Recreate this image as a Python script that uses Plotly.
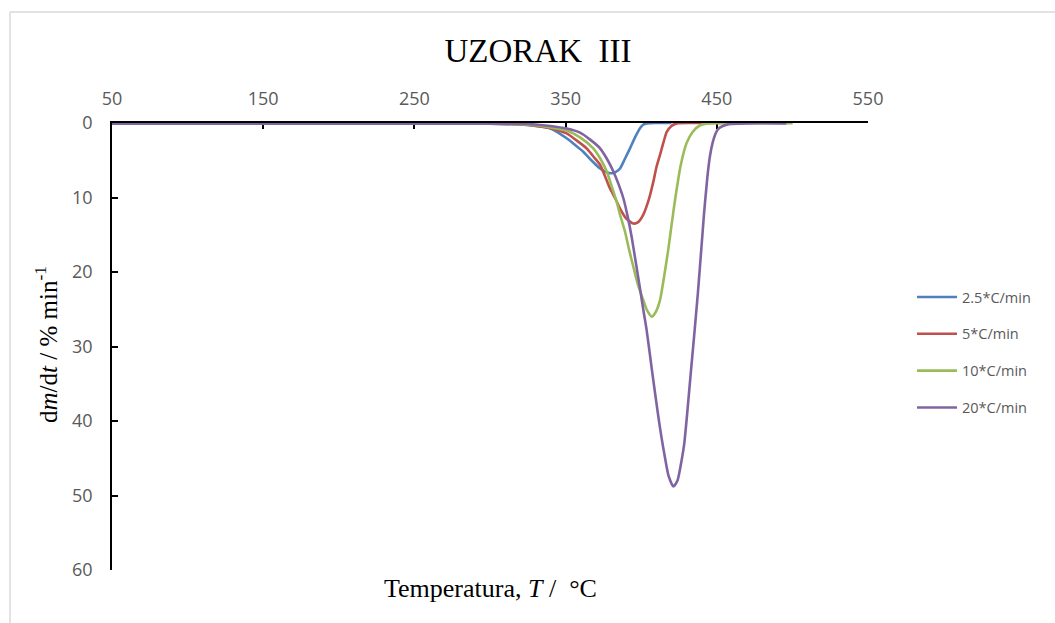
import plotly.graph_objects as go

# ---- data ----
t_25 = [50, 100, 150, 200, 250, 300, 320, 330, 339.7, 350.7, 356, 361.7, 367, 372.8, 377, 380.5, 383, 386, 389,
        392.6, 396, 399.2, 401.5, 403.6, 410, 420]
v_25 = [0.1, 0.1, 0.1, 0.1, 0.1, 0.1, 0.2, 0.4, 0.7, 2.05, 2.9, 3.85, 5.0, 6.1, 6.6, 6.75, 6.6, 6.1, 4.9,
        3.4, 1.9, 0.7, 0.2, 0.05, 0.0, 0.0]

t_5 = [50, 100, 150, 200, 250, 300, 320, 330, 340, 350.7, 357, 363.9, 368, 372.8, 376, 379.4, 383, 386, 390,
       394.8, 398, 401.4, 405, 408, 410, 412.4, 415, 416.9, 420, 423.5, 440, 470, 500]
v_5 = [0.1, 0.1, 0.1, 0.1, 0.1, 0.1, 0.2, 0.35, 0.7, 1.4, 2.3, 3.4, 4.4, 5.6, 7.1, 8.8, 10.2, 11.5, 12.8,
       13.5, 13.3, 12.3, 10.3, 7.9, 6.0, 4.3, 2.4, 1.2, 0.4, 0.05, 0.0, 0.0, 0.0]

t_10 = [50, 100, 150, 200, 250, 300, 320, 330, 340, 350.7, 360, 368.3, 373, 377.2, 380.5, 383.8, 386, 389.3, 392,
        394.8, 398, 401.4, 404, 407, 409.5, 412.4, 415, 417.9, 420, 422.4, 426, 430, 434, 439, 445, 470, 500]
v_10 = [0.1, 0.1, 0.1, 0.1, 0.1, 0.1, 0.15, 0.3, 0.6, 1.0, 2.0, 3.4, 4.8, 6.5, 8.5, 10.6, 12.3, 14.6, 17.0,
        19.3, 21.8, 23.8, 25.2, 26.0, 25.4, 23.8, 20.8, 17.0, 13.8, 10.3, 5.8, 2.7, 1.2, 0.3, 0.05, 0.0, 0.0]

t_20 = [50, 100, 150, 200, 250, 300, 320, 330, 340, 350.7, 359.5, 366, 372.8, 377, 381.6, 385, 388.2, 391,
        393.7, 396.5, 399.2, 401.5, 403.6, 407, 409, 411.4, 413.5, 415.8, 418, 421.3, 424, 426.8, 428.5, 430,
        432.5, 435, 437.5, 439.8, 441.5, 443.7, 445.5, 447.3, 449, 451, 454, 458, 470, 496]
v_20 = [0.1, 0.1, 0.1, 0.1, 0.1, 0.1, 0.1, 0.2, 0.4, 0.75, 1.3, 2.2, 3.4, 4.7, 6.5, 8.2, 10.1, 12.5,
        15.3, 18.8, 22.2, 25.2, 27.8, 33.0, 36.0, 39.5, 42.3, 45.0, 47.3, 48.8, 48.0, 45.2, 43.0, 39.9,
        34.2, 28.6, 22.8, 16.8, 12.3, 7.4, 4.4, 2.6, 1.5, 0.8, 0.4, 0.15, 0.05, 0.05]

series_names = ["2.5*C/min", "5*C/min", "10*C/min", "20*C/min"]
series_t = [t_25, t_5, t_10, t_20]
series_v = [v_25, v_5, v_10, v_20]
colors = ["#4F81BD", "#C0504D", "#9BBB59", "#8064A2"]

x_ticks = [50, 150, 250, 350, 450, 550]
y_ticks = [0, 10, 20, 30, 40, 50, 60]

fig = go.Figure()
for i, (n, t, v, c) in enumerate(zip(series_names, series_t, series_v, colors)):
    fig.add_trace(go.Scatter(x=t, y=v, mode="lines", name=n, legendgroup=str(i),
                             line=dict(color=c, width=2.6, shape="spline", smoothing=0.6)))

W, H = 1055, 623
L, R, T, B = 112, 868, 123, 570
pw, ph = R - L, B - T

def px_x(p):
    return (p - L) / pw

def px_y(p):
    return (B - p) / ph

tick_font = dict(family="Open Sans, Liberation Sans, sans-serif", size=18, color="#595959")
legend_font = dict(family="Open Sans, Liberation Sans, sans-serif", size=14.5, color="#595959")
serif = "Liberation Serif, Times New Roman, serif"

fig.update_layout(
    width=W, height=H,
    margin=dict(l=L, r=W - R, t=T, b=H - B, pad=0),
    paper_bgcolor="white", plot_bgcolor="white",
    title=dict(text="UZORAK\u00a0\u00a0III", x=538 / W, xanchor="center", y=1 - 50 / H, yanchor="middle",
               font=dict(family=serif, size=33, color="black")),
    xaxis=dict(range=[50, 550], side="top", tickvals=x_ticks, ticks="inside", ticklen=6, tickwidth=1.5,
               tickcolor="black", showline=True, linecolor="black", linewidth=1.5, showgrid=False,
               zeroline=False, tickfont=tick_font, layer="below traces", ticklabelstandoff=9),
    yaxis=dict(range=[60, 0], tickvals=y_ticks, ticks="inside", ticklen=6, tickwidth=1.5, tickcolor="black",
               showline=True, linecolor="black", linewidth=1.5, showgrid=False, zeroline=False,
               tickfont=tick_font, layer="below traces", ticklabelstandoff=14),
    legend=dict(x=px_x(912), xanchor="left", y=px_y(281), yanchor="top", font=legend_font,
                traceorder="grouped", tracegroupgap=15, itemwidth=40, bgcolor="rgba(0,0,0,0)"),
    showlegend=True,
)

fig.add_annotation(text="Temperatura, <i>T</i> /\u00a0\u00a0°C", xref="paper", yref="paper",
                   x=px_x(490), y=px_y(588), xanchor="center", yanchor="middle", showarrow=False,
                   font=dict(family=serif, size=26, color="black"))
fig.add_annotation(text="d<i>m</i>/d<i>t</i> / % min<sup>-1</sup>", xref="paper", yref="paper",
                   x=px_x(46), y=px_y(345), xanchor="center", yanchor="middle", showarrow=False,
                   textangle=-90, font=dict(family=serif, size=25, color="black"))

# chart-area border (top and left edges visible)
fig.add_shape(type="line", xref="paper", yref="paper", x0=px_x(10), x1=px_x(1060), y0=px_y(12), y1=px_y(12),
              line=dict(color="#D9D9D9", width=1.5))
fig.add_shape(type="line", xref="paper", yref="paper", x0=px_x(10), x1=px_x(10), y0=px_y(12), y1=px_y(630),
              line=dict(color="#D9D9D9", width=1.5))

fig.write_html("out.html", config={"displayModeBar": False},
               post_script="document.body.style.margin='0';")
